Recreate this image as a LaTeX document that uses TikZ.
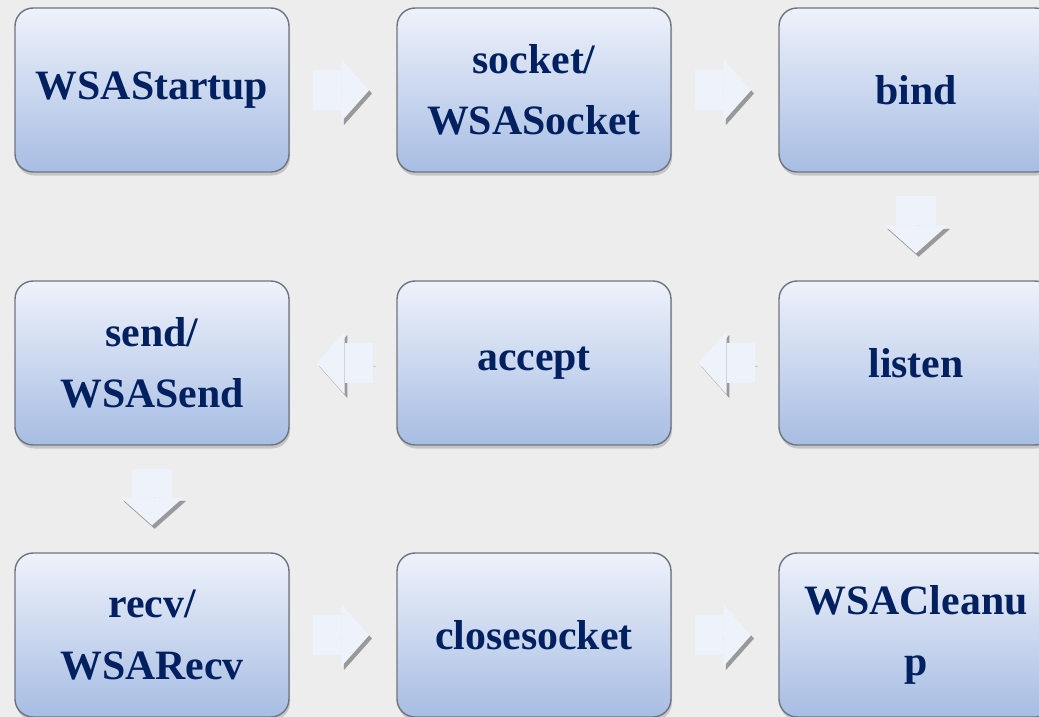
\documentclass[tikz,border=0pt]{standalone}
\usepackage{fontspec}
\setmainfont{Liberation Serif}
\usetikzlibrary{shadows,arrows.meta}
\definecolor{pagebg}{HTML}{EDEDED}
\definecolor{boxtop}{HTML}{EEF2FB}
\definecolor{boxbottom}{HTML}{A7BDE3}
\definecolor{boxline}{HTML}{6F7480}
\definecolor{labelblue}{HTML}{002060}
\definecolor{arrowfill}{HTML}{EEF2FA}
\begin{document}
\begin{tikzpicture}[x=0.02cm,y=-0.02cm,
    apicall/.style ={rectangle, rounded corners=0.36cm, draw=boxline, line width=0.8pt,
      top color=boxtop, bottom color=boxbottom,
      drop shadow={shadow xshift=0.6pt, shadow yshift=-2pt, opacity=0.35},
      minimum width=5.48cm, minimum height=3.28cm, inner sep=0pt,
      text width=5.2cm, align=center, text=labelblue,
      font=\fontsize{23.8}{35}\selectfont\bfseries},
    flow/.style ={line width=0.8cm, draw=arrowfill,
      -{Triangle[length=0.56cm, width=1.26cm, line width=0pt]},
      shorten <=0.46cm, shorten >=0.54cm,
      preaction={draw=black!40, draw opacity=0.45,
        transform canvas={shift={(1.5pt,-2pt)}}}}]
   \fill[pagebg] (0,0) rectangle (1039,717);
   \useasboundingbox (0,0) rectangle (1039,717);

   \node[apicall] (startup) at (152,90)  {WSAStartup};
   \node[apicall] (socket)  at (534,90)  {socket/\\WSASocket};
   \node[apicall] (bind)    at (916,90)  {bind};
   \node[apicall] (listen)  at (916,363) {listen};
   \node[apicall] (accept)  at (534,363) {accept};
   \node[apicall] (send)    at (152,363) {send/\\WSASend};
   \node[apicall] (recv)    at (152,635) {recv/\\WSARecv};
   \node[apicall] (close)   at (534,635) {closesocket};
   \node[apicall] (cleanup) at (916,635) {WSACleanu\\p};

   \draw[flow] (startup) to (socket);
   \draw[flow] (socket)  to (bind);
   \draw[flow] (bind)    to (listen);
   \draw[flow] (listen)  to (accept);
   \draw[flow] (accept)  to (send);
   \draw[flow] (send)    to (recv);
   \draw[flow] (recv)    to (close);
   \draw[flow] (close)   to (cleanup);
 \end{tikzpicture}
\end{document}
